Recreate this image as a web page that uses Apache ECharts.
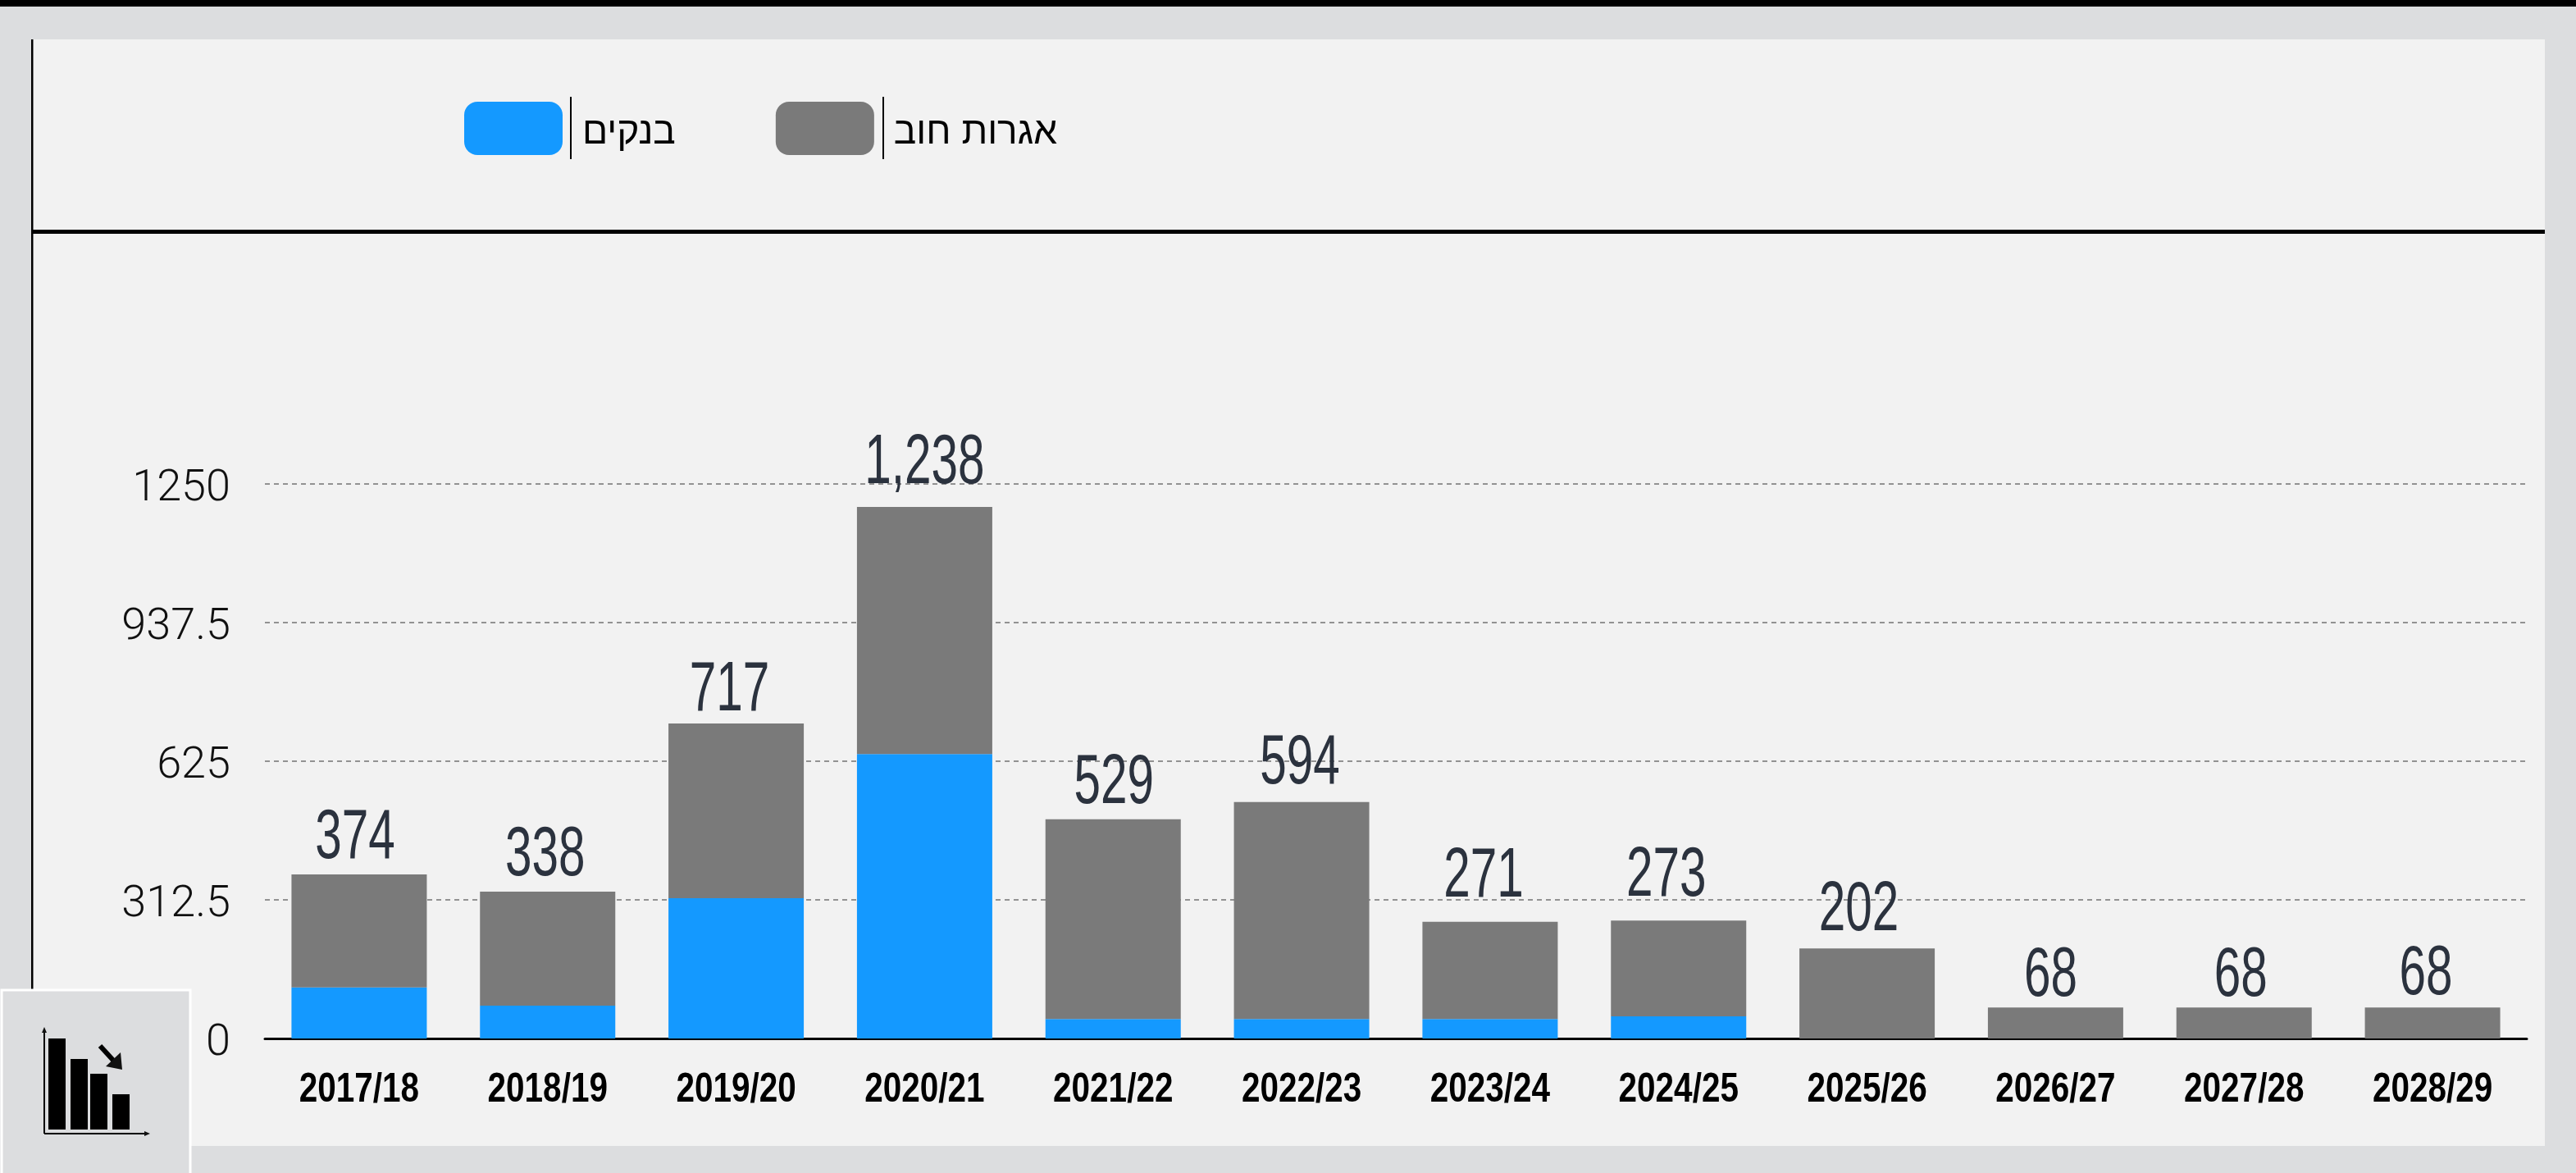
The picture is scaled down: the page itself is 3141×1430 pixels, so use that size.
<!DOCTYPE html>
<html lang="he">
<head>
<meta charset="utf-8">
<style>html,body{margin:0;padding:0;background:#DCDDDF}#c{width:3141px;height:1430px}</style>
<script src="https://cdn.jsdelivr.net/npm/echarts@6/dist/echarts.min.js"></script>
</head>
<body>
<div id="c"></div>
<script>
const categories = ['2017/18','2018/19','2019/20','2020/21','2021/22','2022/23','2023/24','2024/25','2025/26','2026/27','2027/28','2028/29'];
const banks = [115,74,316,641,44,44,44,50,0,0,0,0];
const bonds = [255,257,394,557,450,489,219,216,203,70,70,70];
const totalLabels = ['374','338','717','1,238','529','594','271','273','202','68','68','68'];
const yTicks = [0,312.5,625,937.5,1250];
const seriesNames = ['בנקים','אגרות חוב'];

const BLUE = '#1499FF', GREY = '#7A7A7A', INK = '#2B323E';
const SANS = '"Liberation Sans",sans-serif';
// layout only: horizontal shift and lift of each total label relative to its bar top
const labelNudge = [[-5,21],[-3,21],[-8,17],[0,30],[1,21],[-2,23],[-8,31],[-15,31],[-10,23],[-6,15],[-4,15],[-8,17]];

const chart = echarts.init(document.getElementById('c'), null, {renderer:'canvas'});
const rect = (x,y,w,h,fill,z) => ({type:'rect',shape:{x,y,width:w,height:h},style:{fill},z,silent:true});
const line = (x1,y1,x2,y2,w,z) => ({type:'line',shape:{x1,y1,x2,y2},style:{stroke:'#000',lineWidth:w},z,silent:true});
const tri = (pts,z) => ({type:'polygon',shape:{points:pts},style:{fill:'#111'},z,silent:true});

chart.setOption({
  animation:false,
  backgroundColor:'#DCDDDF',
  graphic:{elements:[
    rect(0,0,3141,8,'#000',-5),
    rect(40,48,3063,1349,'#F2F2F2',-5),
    rect(38,48,2.5,1160,'#000',-4),
    rect(40,280,3063,5,'#000',-4),
    line(696,118,696,194,2,5),
    line(1077,118,1077,194,2,5),
    // corner icon
    {type:'rect',shape:{x:2,y:1207,width:230,height:226},style:{fill:'#DCDDDF',stroke:'#fff',lineWidth:3},z:50,silent:true},
    rect(59,1266,21,111,'#000',51),
    rect(86,1291,21,86,'#000',51),
    rect(110,1309,21,68,'#000',51),
    rect(137,1334,21,43,'#000',51),
    line(54,1256,54,1382,2,51),
    line(54,1382,180,1382,2,51),
    tri([[54,1252],[51,1259],[57,1259]],51),
    tri([[183,1382],[176,1379],[176,1385]],51),
    line(122,1275,143,1298,6,51),
    tri([[149,1304],[147,1283],[129,1300]],51)
  ]},
  legend:{
    left:566, top:124, padding:0,
    itemWidth:120, itemHeight:65, itemGap:122,
    icon:'roundRect',
    data:[seriesNames[0],seriesNames[1]],
    selectedMode:false,
    formatter:n=>'{t|'+n+'}',
    textStyle:{fontFamily:SANS,fontSize:46,color:'#000',padding:[0,0,0,19],
      rich:{t:{fontFamily:SANS,fontSize:46,color:'#000',padding:[12,0,0,0]}}}
  },
  grid:{left:323,right:60,top:590,bottom:164,containLabel:false},
  xAxis:{
    type:'category',data:categories,
    axisLine:{show:true,lineStyle:{color:'#000',width:3}},
    axisTick:{show:false},
    axisLabel:{show:false}
  },
  yAxis:{
    type:'value',min:0,max:yTicks[yTicks.length-1],interval:yTicks[1],
    axisLine:{show:false},axisTick:{show:false},
    axisLabel:{margin:42,color:'#111',fontFamily:'Roboto,sans-serif',fontWeight:300,fontSize:54,verticalAlign:'top',lineHeight:12,
      formatter:v=>String(v)},
    splitLine:{show:true,lineStyle:{color:'#929292',width:2,type:[6,5]}}
  },
  series:[
    {name:seriesNames[0],type:'bar',stack:'t',data:banks,barWidth:165,itemStyle:{color:BLUE,borderRadius:0}},
    {name:seriesNames[1],type:'bar',stack:'t',data:bonds,barWidth:165,itemStyle:{color:GREY}},
    {
      type:'custom',silent:true,z:10,clip:false,
      data:categories.map((c,i)=>[i,banks[i]+bonds[i]]),
      encode:{x:0,y:1},
      renderItem:(p,api)=>{
        const i=api.value(0), pt=api.coord([i,api.value(1)]), n=labelNudge[i];
        return {type:'text',x:pt[0]+n[0],y:pt[1]-n[1]+20,scaleX:0.68,
          style:{text:totalLabels[i],font:'86px '+SANS,fill:INK,align:'center',verticalAlign:'bottom'}};
      }
    },
    {
      type:'custom',silent:true,z:10,clip:false,
      data:categories.map((c,i)=>[i,0]),
      encode:{x:0,y:1},
      renderItem:(p,api)=>{
        const i=api.value(0), pt=api.coord([i,0]);
        return {type:'text',x:pt[0],y:pt[1]+63,scaleX:0.81,
          style:{text:categories[i],font:'bold 50px '+SANS,fill:'#000',align:'center',verticalAlign:'middle'}};
      }
    }
  ]
});
</script>
</body>
</html>
